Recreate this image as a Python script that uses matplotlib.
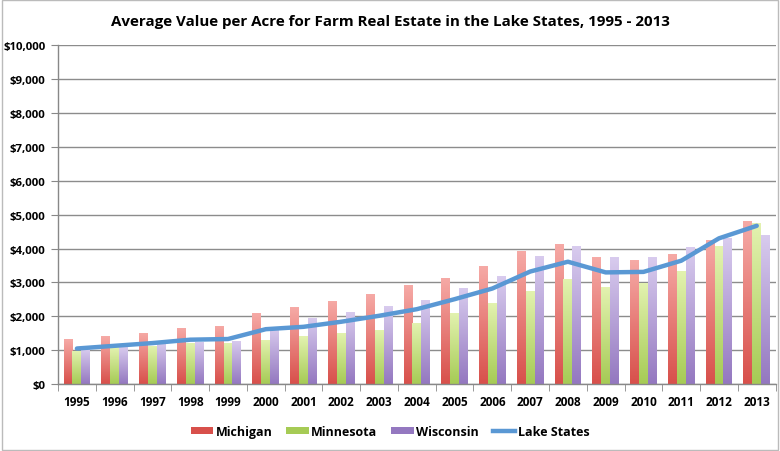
import matplotlib
matplotlib.use("Agg")
import matplotlib.pyplot as plt
import numpy as np
from matplotlib.colors import LinearSegmentedColormap
from matplotlib.patches import Rectangle
from matplotlib.lines import Line2D
from matplotlib.ticker import FuncFormatter, FixedLocator

years = ["1995", "1996", "1997", "1998", "1999", "2000", "2001", "2002", "2003", "2004",
         "2005", "2006", "2007", "2008", "2009", "2010", "2011", "2012", "2013"]
michigan = [1320, 1415, 1515, 1660, 1720, 2085, 2270, 2460, 2665, 2910,
            3135, 3490, 3940, 4140, 3745, 3650, 3845, 4250, 4800]
minnesota = [980, 1080, 1130, 1210, 1210, 1310, 1410, 1505, 1600, 1790,
             2095, 2390, 2760, 3100, 2860, 2980, 3335, 4060, 4740]
wisconsin = [1030, 1080, 1210, 1250, 1280, 1670, 1950, 2135, 2290, 2485,
             2840, 3185, 3790, 4060, 3745, 3745, 4030, 4300, 4395]
lake_states = [1050, 1130, 1210, 1310, 1330, 1620, 1690, 1840, 2015, 2210,
               2505, 2820, 3320, 3610, 3295, 3310, 3640, 4300, 4670]

plt.rcParams['font.family'] = ['Open Sans', 'DejaVu Sans']

fig = plt.figure(figsize=(7.8, 4.52), dpi=100)
ax = fig.add_axes([0.0744, 0.148, 0.920, 0.75])

x = np.arange(len(years))
w = 0.235
series = [
    (michigan, -w, "Michigan", "#f6aaa6", "#d8504b"),
    (minnesota, 0, "Minnesota", "#e3f2b0", "#a6cb55"),
    (wisconsin, w, "Wisconsin", "#d8cbee", "#9478c0"),
]
grad = np.linspace(1, 0, 64).reshape(-1, 1)
handles = []
for vals, off, name, ctop, cbot in series:
    bars = ax.bar(x + off, vals, width=w, color=cbot, edgecolor='none', zorder=2, label=name)
    cmap = LinearSegmentedColormap.from_list(name, [cbot, ctop])
    for b in bars:
        bx, by = b.get_x(), b.get_y()
        bw, bh = b.get_width(), b.get_height()
        im = ax.imshow(grad, cmap=cmap, aspect='auto', extent=[bx, bx + bw, by, by + bh],
                       zorder=2.1, interpolation='bilinear', vmin=0, vmax=1)
        im.set_clip_path(b)
    handles.append(Rectangle((0, 0), 1, 1, facecolor=cbot, edgecolor='none'))

line, = ax.plot(x, lake_states, color="#5a98d4", lw=3.2, zorder=3, solid_capstyle='round',
                solid_joinstyle='round')
handles.append(Line2D([0], [0], color="#5a98d4", lw=3.2))

ax.set_xlim(-0.5, len(years) - 0.5)
ax.set_ylim(0, 10000)
ax.yaxis.set_major_locator(FixedLocator(np.arange(0, 10001, 1000)))
ax.yaxis.set_major_formatter(FuncFormatter(lambda v, p: "${:,.0f}".format(v)))
ax.set_xticks(x)
ax.set_xticklabels(years)
ax.set_xticks(np.arange(-0.5, len(years)), minor=True)
ax.tick_params(axis='x', which='major', length=0, pad=8, labelsize=8.5)
ax.tick_params(axis='x', which='minor', length=5, color='#888888', direction='out')
ax.tick_params(axis='y', length=5, color='#888888', labelsize=8.2, pad=4)
for lab in ax.get_xticklabels() + ax.get_yticklabels():
    lab.set_fontweight('bold')

ax.grid(axis='y', color='#8c8c8c', lw=1.0, zorder=0)
ax.set_axisbelow(True)
for s in ['top', 'right']:
    ax.spines[s].set_visible(False)
for s in ['left', 'bottom']:
    ax.spines[s].set_color('#888888')
    ax.spines[s].set_linewidth(1.0)

fig.text(0.5, 0.951, "Average Value per Acre for Farm Real Estate in the Lake States, 1995 - 2013",
         ha='center', va='center', fontsize=10.9, fontweight='bold')

fig.legend(handles, ["Michigan", "Minnesota", "Wisconsin", "Lake States"], ncol=4,
           loc='center', bbox_to_anchor=(0.5, 0.043), frameon=False,
           prop={'weight': 'bold', 'size': 9}, handlelength=1.8, handleheight=0.5,
           columnspacing=1.1, handletextpad=0.2)

fig.patches.append(Rectangle((0.002, 0.002), 0.996, 0.996, transform=fig.transFigure,
                             fill=False, edgecolor='#bbbbbb', lw=1))

fig.savefig("out.png", dpi=100)
